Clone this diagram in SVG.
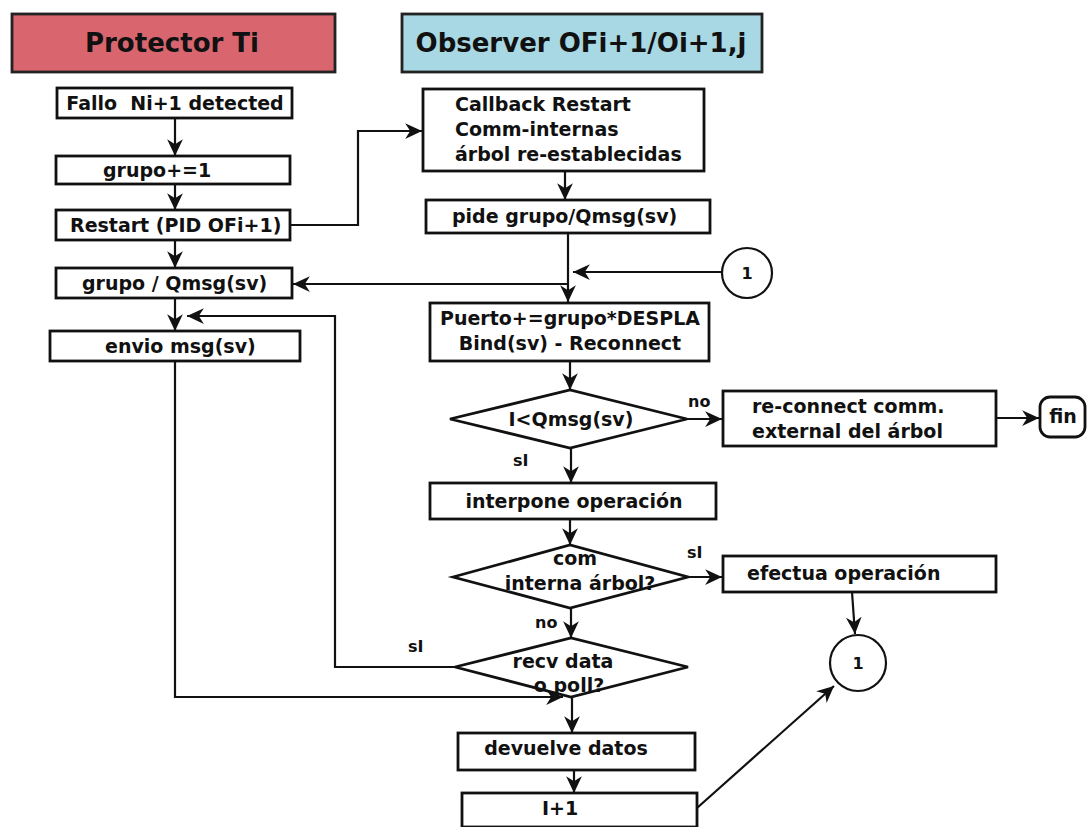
<svg xmlns="http://www.w3.org/2000/svg" width="1087" height="827" viewBox="0 0 1087 827">
<defs>
<marker id="ah" markerWidth="18" markerHeight="18" viewBox="0 0 16 16" refX="15" refY="8" orient="auto" markerUnits="userSpaceOnUse">
<path d="M0,1 L15,8 L0,15 L4.5,8 Z" fill="#111"/>
</marker>
<style>
.box{fill:#fff;stroke:#111;stroke-width:2.8}
.t{font-family:"DejaVu Sans",Verdana,sans-serif;font-weight:bold;font-size:19px;fill:#111}
.c{text-anchor:middle}
.h{font-size:26px}
.s{font-size:16px}
.ln{fill:none;stroke:#111;stroke-width:2.2}
.ar{fill:none;stroke:#111;stroke-width:2.2;marker-end:url(#ah)}
</style>
</defs>
<rect width="1087" height="827" fill="#fff"/>
<g id="hdr-protector"><rect x="12" y="14" width="323" height="58" fill="#d9666f" stroke="#222" stroke-width="2.8"/><text class="t h c" x="172" y="52">Protector Ti</text></g>
<g id="hdr-observer"><rect x="402" y="14" width="360" height="58" fill="#a8d8e3" stroke="#222" stroke-width="2.8"/><text class="t h c" x="581" y="52">Observer OFi+1/Oi+1,j</text></g>
<g id="fallo"><rect class="box" x="57" y="88" width="235" height="30"/><text class="t c" x="175" y="110" xml:space="preserve">Fallo  Ni+1 detected</text></g>
<g id="grupo1"><rect class="box" x="56" y="156" width="234" height="28"/><text class="t" x="103" y="177">grupo+=1</text></g>
<g id="restart"><rect class="box" x="56" y="210" width="234" height="30"/><text class="t" x="70" y="232">Restart (PID OFi+1)</text></g>
<g id="grupoq"><rect class="box" x="56" y="268" width="236" height="30"/><text class="t" x="82" y="290">grupo / Qmsg(sv)</text></g>
<g id="envio"><rect class="box" x="50" y="331" width="250" height="30"/><text class="t" x="105" y="353">envio msg(sv)</text></g>
<g id="callback"><rect class="box" x="423" y="89" width="281" height="82"/><text class="t" x="455" y="111">Callback Restart</text><text class="t" x="455" y="136">Comm-internas</text><text class="t" x="455" y="161">árbol re-establecidas</text></g>
<g id="pide"><rect class="box" x="426" y="200" width="284" height="33"/><text class="t" x="452" y="223">pide grupo/Qmsg(sv)</text></g>
<g id="c1a"><circle cx="747" cy="273" r="25" fill="#fff" stroke="#111" stroke-width="2.2"/><text class="t s c" x="747" y="279">1</text></g>
<g id="puerto"><rect class="box" x="430" y="303" width="279" height="58"/><text class="t c" x="570" y="325">Puerto+=grupo*DESPLA</text><text class="t c" x="570" y="350">Bind(sv) - Reconnect</text></g>
<g id="d1"><polygon points="450,419 570,390 687,419 570,448" fill="#fff" stroke="#111" stroke-width="2.8"/><text class="t c" x="571" y="426">I&lt;Qmsg(sv)</text></g>
<g id="reconnect"><rect class="box" x="723" y="391" width="273" height="55"/><text class="t" x="752" y="413">re-connect comm.</text><text class="t" x="752" y="438">external del árbol</text></g>
<g id="fin"><rect x="1040" y="397" width="45" height="40" rx="10" fill="#fff" stroke="#111" stroke-width="2.8"/><text class="t c" x="1063" y="423">fin</text></g>
<g id="interpone"><rect class="box" x="430" y="483" width="286" height="36"/><text class="t c" x="574" y="508">interpone operación</text></g>
<g id="d2"><polygon points="453,577 570,545 688,577 570,608" fill="#fff" stroke="#111" stroke-width="2.8"/><text class="t c" x="575" y="565">com</text><text class="t c" x="580" y="590">interna árbol?</text></g>
<g id="efectua"><rect class="box" x="723" y="556" width="273" height="36"/><text class="t" x="747" y="580">efectua operación</text></g>
<g id="c1b"><circle cx="858" cy="663" r="28" fill="#fff" stroke="#111" stroke-width="2.2"/><text class="t s c" x="858" y="669">1</text></g>
<g id="d3"><polygon points="455,667 571,638 688,667 571,697" fill="#fff" stroke="#111" stroke-width="2.8"/><text class="t c" x="563" y="668">recv data</text><text class="t c" x="569" y="692">o poll?</text></g>
<g id="devuelve"><rect class="box" x="458" y="733" width="237" height="37"/><text class="t c" x="566" y="755">devuelve datos</text></g>
<g id="i1"><rect class="box" x="462" y="793" width="235" height="34"/><text class="t c" x="560" y="815">I+1</text></g>
<g id="connectors">
<line class="ar" x1="175" y1="118" x2="175" y2="156"/>
<line class="ar" x1="175" y1="184" x2="175" y2="210"/>
<line class="ar" x1="175" y1="240" x2="175" y2="268"/>
<line class="ar" x1="175" y1="298" x2="175" y2="331"/>
<polyline class="ar" points="290,225 358,225 358,131 422,131"/>
<line class="ar" x1="565" y1="171" x2="565" y2="200"/>
<line class="ar" x1="568" y1="233" x2="568" y2="302"/>
<line class="ar" x1="568" y1="284" x2="293" y2="284"/>
<line class="ar" x1="722" y1="272" x2="573" y2="272"/>
<line class="ar" x1="570" y1="361" x2="570" y2="390"/>
<line class="ar" x1="687" y1="419" x2="722" y2="419"/>
<text class="t s" x="688" y="407">no</text>
<line class="ar" x1="996" y1="418" x2="1039" y2="418"/>
<line class="ar" x1="571" y1="448" x2="571" y2="483"/>
<text class="t s" x="513" y="466">sI</text>
<line class="ar" x1="570" y1="519" x2="570" y2="545"/>
<line class="ar" x1="688" y1="577" x2="722" y2="577"/>
<text class="t s" x="687" y="558">sI</text>
<line class="ar" x1="852" y1="592" x2="855" y2="634"/>
<line class="ar" x1="571" y1="608" x2="571" y2="638"/>
<text class="t s" x="535" y="628">no</text>
<polyline class="ar" points="455,667 335,667 335,316 187,316"/>
<text class="t s" x="408" y="652">sI</text>
<polyline class="ar" points="175,361 175,697 563,697"/>
<line class="ar" x1="572" y1="697" x2="572" y2="733"/>
<line class="ar" x1="574" y1="770" x2="574" y2="793"/>
<line class="ar" x1="697" y1="808" x2="834" y2="686"/>
</g>
</svg>
